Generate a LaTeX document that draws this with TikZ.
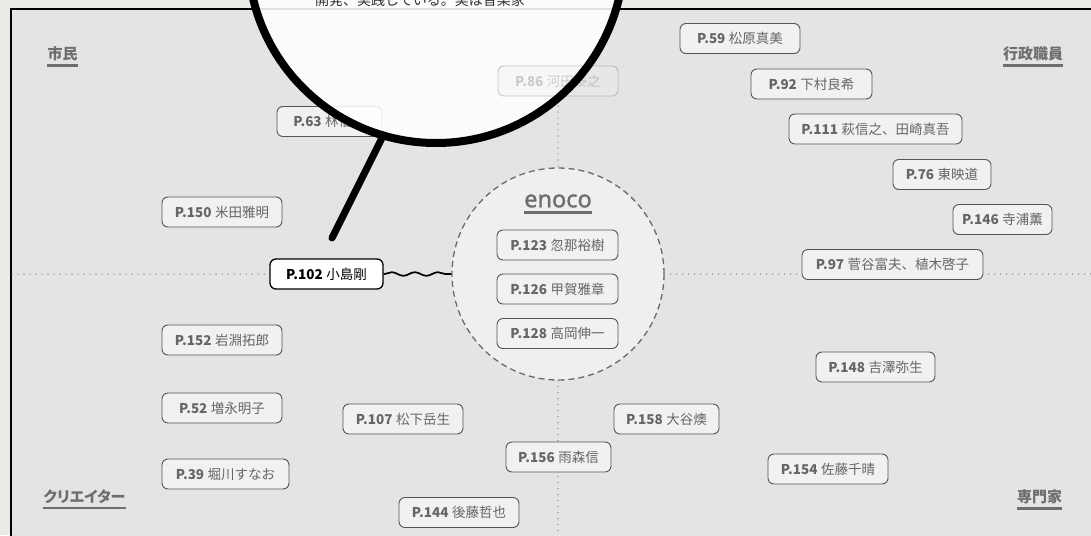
\documentclass[tikz,border=0pt]{standalone}
\usepackage{fontspec}
\setmainfont{Noto Sans}
\newfontfamily\jp{Noto Sans CJK JP}
\newfontfamily\enofont[FakeBold=1.3]{Noto Sans}
\usetikzlibrary{decorations.pathmorphing}
\definecolor{outerbg}{HTML}{ECEAE6}
\definecolor{framebg}{HTML}{E4E4E4}
\definecolor{nodefill}{HTML}{F1F1F1}
\definecolor{nodeline}{HTML}{555555}
\definecolor{nodetext}{HTML}{666666}
\definecolor{dotgray}{HTML}{8A8A8A}
\definecolor{labgray}{HTML}{6E6E6E}
\definecolor{ringfill}{HTML}{EFEFEF}
\definecolor{ringline}{HTML}{6A6A6A}
\newcommand\pn[2]{{\jp\bfseries P.#1}\hspace{3.5pt}{\jp #2}}
\begin{document}
\begin{tikzpicture}[x=1pt,y=-1pt,
  pnode/.style={draw=nodeline, fill=nodefill, rounded corners=6pt, minimum height=30pt,
    inner xsep=0pt, inner ysep=0pt, text=nodetext, font=\fontsize{13.5}{15}\selectfont, line width=0.9pt},
  bw/.style={minimum width=#1pt},
  hot/.style={pnode, fill=white, draw=black, text=black, line width=1.3pt},
  faded/.style={pnode, opacity=0.3},
  quad/.style={font=\jp\bfseries\fontsize{15}{17}\selectfont, text=labgray, inner sep=0pt},
  uline/.style={draw=labgray, line width=2.5pt},
  dots/.style={draw=dotgray, line width=1.5pt, dash pattern=on 0pt off 6pt, line cap=round},
  ring/.style={circle, draw=ringline, line width=1.3pt, dash pattern=on 6pt off 4pt, fill=ringfill, minimum size=212pt},
  wave/.style={draw=black, line width=1.7pt, decorate, decoration={snake, amplitude=1.8pt, segment length=23pt, pre length=1pt, post length=1pt}},
  handle/.style={draw=black, line width=7pt, line cap=round},
  lensfill/.style={circle, fill=white, fill opacity=0.88, minimum size=376pt, inner sep=0pt},
  lensring/.style={circle, draw=black, line width=8pt, minimum size=376pt, inner sep=0pt}
]
\useasboundingbox (0,0) rectangle (1091,535);
% page and frame
\fill[outerbg] (0,0) rectangle (1091,535);
\fill[framebg] (11,9) rectangle (1095,540);
\draw[line width=2pt] (11,545) -- (11,9) -- (1100,9);

% enoco circle and highlighted node
\node[ring] (enoco) at (558,274) {};
\node[hot, bw=113] (p102) at (326.5,274) {\pn{102}{小島剛}};

% quadrant dividers
\coordinate (fl) at (12,274);
\coordinate (fr) at (1095,274);
\coordinate (ft) at (558,10);
\coordinate (fb) at (558,540);
\draw[dots] (fl) -- (p102.west);
\draw[dots] (enoco.east) -- (fr);
\draw[dots] (ft) -- (enoco.north);
\draw[dots] (enoco.south) -- (fb);

\draw[wave] (p102.east) -- (enoco.west);

% enoco content
\node[font=\enofont\fontsize{23.5}{26}\selectfont, text=labgray, inner sep=0pt] (enocot) at (558,201) {enoco};
\draw[uline] ([yshift=-5pt]enocot.south west) -- ([yshift=-5pt]enocot.south east);
\node[pnode, bw=121] (p123) at (557.5,245) {\pn{123}{忽那裕樹}};
\node[pnode, bw=121] (p126) at (557.5,289) {\pn{126}{甲賀雅章}};
\node[pnode, bw=121] (p128) at (557.5,333.5) {\pn{128}{高岡伸一}};

% quadrant labels
\node[quad] (lshimin) at (62.5,54) {市民};
\node[quad] (lgyosei) at (1033,54) {行政職員};
\node[quad] (lcreator) at (84.5,497) {\addfontfeatures{RawFeature=+palt}クリエイター};
\node[quad] (lsenmon) at (1039.5,497) {専門家};
\foreach \l in {lshimin,lgyosei,lcreator,lsenmon}
  \draw[uline] ([yshift=-4pt]\l.south west) -- ([yshift=-4pt]\l.south east);

% people
\node[pnode, bw=120] (p59) at (740,38.5) {\pn{59}{松原真美}};
\node[pnode, bw=121] (p92) at (811.5,84) {\pn{92}{下村良希}};
\node[pnode, bw=173] (p111) at (875.5,129) {\pn{111}{萩信之、田崎真吾}};
\node[pnode, bw=98] (p76) at (942,174.5) {\pn{76}{東映道}};
\node[pnode, bw=99] (p146) at (1002.5,219.5) {\pn{146}{寺浦薫}};
\node[pnode, bw=181] (p97) at (892.5,264.5) {\pn{97}{菅谷富夫、植木啓子}};
\node[pnode, bw=105] (p63) at (329.5,121.5) {\pn{63}{林信\phantom{行}}};
\node[pnode, bw=120] (p150) at (222,212) {\pn{150}{米田雅明}};
\node[pnode, bw=120] (p152) at (222,340) {\pn{152}{岩淵拓郎}};
\node[pnode, bw=120] (p52) at (222,408) {\pn{52}{増永明子}};
\node[pnode, bw=127] (p39) at (225.5,474) {\pn{39}{堀川すなお}};
\node[pnode, bw=120] (p107) at (403,419) {\pn{107}{松下岳生}};
\node[pnode, bw=120] (p144) at (459,512.5) {\pn{144}{後藤哲也}};
\node[pnode, bw=105] (p156) at (558.5,457) {\pn{156}{雨森信}};
\node[pnode, bw=105] (p158) at (666.5,419) {\pn{158}{大谷燠}};
\node[pnode, bw=120] (p154) at (828,469) {\pn{154}{佐藤千晴}};
\node[pnode, bw=119] (p148) at (875.5,367) {\pn{148}{吉澤弥生}};

% magnifier
\coordinate (hend) at (332,238);
\coordinate (hin) at (384,134);
\draw[handle] (hend) -- (hin);
\node[lensfill] (lensbg) at (436,-45) {};
\node[font=\jp\fontsize{14}{16}\selectfont, text=black!80, inner sep=0pt] (lenstext) at (420,0) {開発、実践している。実は音楽家};
\node[faded, bw=120] (p86) at (558,81) {\pn{86}{河田泰之}};
\node[lensring] (lens) at (436,-45) {};
\end{tikzpicture}
\end{document}
